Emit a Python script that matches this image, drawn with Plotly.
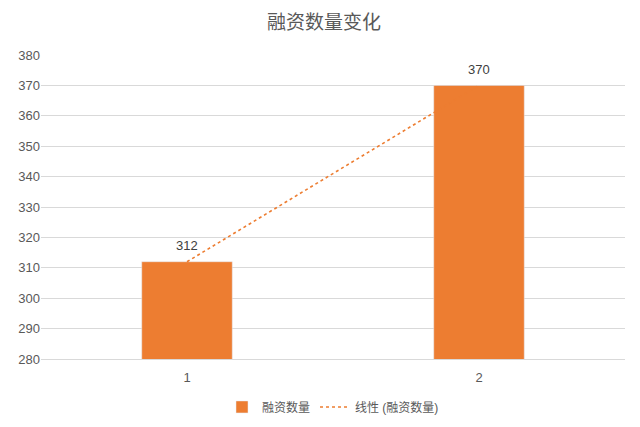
import numpy as np
import plotly.graph_objects as go

categories = ["1", "2"]
counts = [312, 370]
series_name = "融资数量"
trend_name = "线性 (融资数量)"

orange = "#ED7D31"
grey_text = "#595959"

# linear trendline through the bar values (like Excel's "linear" trend)
xs = np.arange(len(counts))
slope, intercept = np.polyfit(xs, counts, 1)
trend = slope * xs + intercept

fig = go.Figure()
fig.add_trace(go.Bar(x=categories, y=counts, name=series_name,
                     marker=dict(color=orange), width=0.31))
fig.add_trace(go.Scatter(x=categories, y=trend, name=trend_name, mode="lines",
                         line=dict(color=orange, width=1.6, dash="dot")))

# value labels a bit above the bar tops (x given as category index)
for i, v in enumerate(counts):
    fig.add_annotation(x=i, y=v, text=str(v), showarrow=False, yshift=16,
                       font=dict(size=13, color="#404040"))

# page body has an 8px margin, so the figure is 632x419 and offset by 8px
fig.update_layout(
    width=632, height=419,
    paper_bgcolor="white", plot_bgcolor="white",
    font=dict(family="Liberation Sans, Noto Sans CJK SC, sans-serif", color=grey_text),
    title=dict(text="融资数量变化", x=0.5, xanchor="center", y=1 - 14 / 419, yanchor="middle",
               font=dict(size=19, color=grey_text)),
    margin=dict(l=33, r=15, t=47, b=68, autoexpand=False),
    showlegend=True,
    legend=dict(orientation="h", x=0.5, xanchor="center", y=-0.11, yanchor="top",
                font=dict(size=12, color=grey_text)),
    bargap=0.5,
)
fig.update_xaxes(type="category", showgrid=False, showline=True, linecolor="#d9d9d9",
                 ticks="", ticklabelstandoff=6, automargin=False,
                 tickfont=dict(size=13, color=grey_text))
fig.update_yaxes(range=[280, 380], dtick=10, showgrid=True, gridcolor="#d9d9d9",
                 zeroline=False, showline=False, ticks="", automargin=False,
                 tickfont=dict(size=13, color=grey_text))

fig.write_html("out.html")
